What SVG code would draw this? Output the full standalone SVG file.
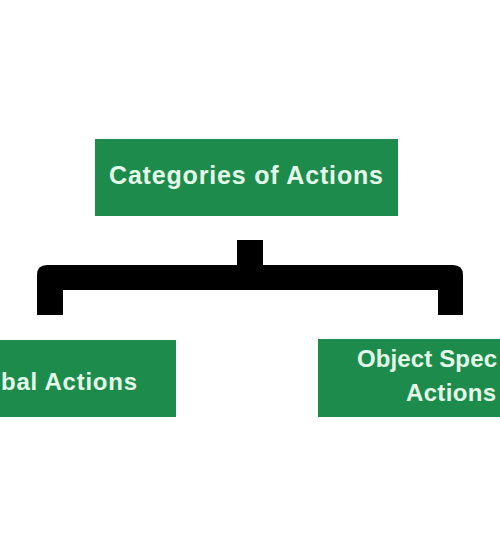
<svg xmlns="http://www.w3.org/2000/svg" width="500" height="550" viewBox="0 0 500 550">
<style>
.box{fill:#1d8b4b}
.t{font-family:"Liberation Sans",Arial,sans-serif;font-weight:bold;fill:#e4fbe9}
</style>
<rect width="500" height="550" fill="#ffffff"/>
<g id="connectors">
<path d="M237,240 H263 V265 H453 Q463,265 463,275 V315 H438 V290 H63 V315 H37 V275 Q37,265 47,265 H237 Z" fill="#000000"/>
</g>
<g id="categories">
<rect class="box" x="95" y="139" width="303" height="77"/>
<text class="t" x="109" y="184" font-size="25" textLength="274" lengthAdjust="spacing">Categories of Actions</text>
</g>
<g id="global">
<rect class="box" x="0" y="340" width="176" height="77"/>
<text class="t" x="1" y="390" font-size="24" textLength="136" lengthAdjust="spacing">bal Actions</text>
</g>
<g id="object">
<rect class="box" x="318" y="339" width="182" height="78"/>
<text class="t" x="357" y="367" font-size="24" textLength="140" lengthAdjust="spacing">Object Spec</text>
<text class="t" x="406" y="401" font-size="24" textLength="90" lengthAdjust="spacing">Actions</text>
</g>
</svg>
